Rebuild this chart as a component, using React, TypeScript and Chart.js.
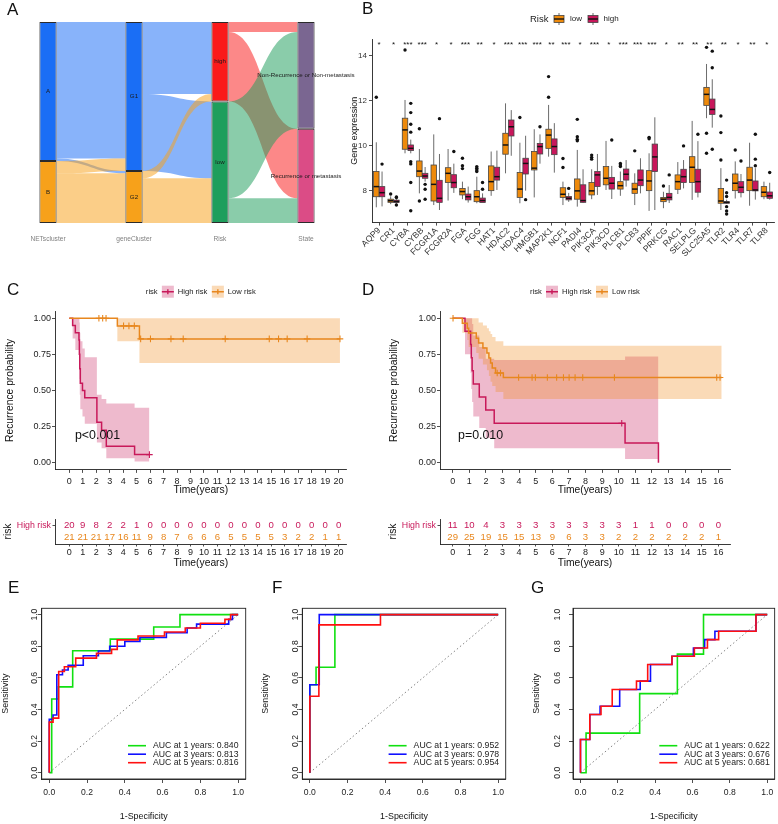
import React, { useEffect, useRef } from 'react';
import { Chart, registerables } from 'chart.js';

Chart.register(...registerables);
const FONT = "'Liberation Sans', Arial, Helvetica, sans-serif";
Chart.defaults.font.family = FONT;
Chart.defaults.color = '#222';

// ================= Panel A : Sankey =================
const sankeyAxes = ['NETscluster', 'geneCluster', 'Risk', 'State'];
const netClusters = ['A', 'B'];
const geneClusters = ['G1', 'G2'];
const riskGroups = ['high', 'low'];
const stateGroups = ['Non-Recurrence or Non-metastasis', 'Recurrence or metastasis'];
const flowNetToGene = [[55, 1], [5, 20]];
const flowGeneToRisk = [[29, 31], [3, 18]];
const flowRiskToState = [[4, 28], [39, 10]];
const netColors = ['#1A6EF5', '#F7A11A'];
const geneColors = ['#1A6EF5', '#F7A11A'];
const riskColors = ['#FA1A1A', '#1E9E5C'];
const stateColors = ['#7A6691', '#DB4C86'];

// ================= Panel B : boxplots =================
const genes = ['AQP9','CR1','CYBA','CYBB','FCGR1A','FCGR2A','FGA','FGG','HAT1','HDAC2','HDAC4','HMGB1','MAP2K1','NCF1','PADI4','PIK3CA','PIK3CD','PLCB1','PLCB3','PPIF','PRKCG','RAC1','SELPLG','SLC25A5','TLR2','TLR4','TLR7','TLR8'];
const signif = ['*','*','***','***','*','*','***','**','*','***','***','***','**','***','*','***','*','***','***','***','*','**','**','**','**','*','**','*'];
const lowMin = [7.26,7.40,9.66,7.88,7.36,7.56,7.62,7.44,7.77,8.77,7.44,7.70,9.51,7.36,7.29,7.62,8.03,7.77,7.36,7.10,7.22,7.85,7.59,11.22,7.14,7.65,7.33,7.62];
const lowQ1 = [7.73,7.48,9.84,8.62,7.54,8.36,7.81,7.51,8.00,9.62,7.70,8.92,9.88,7.70,7.62,7.81,8.26,8.07,7.88,8.00,7.51,8.06,8.36,11.79,7.44,8.00,8.00,7.73];
const lowMed = [8.18,7.55,10.70,8.87,8.28,8.77,7.96,7.73,8.40,10.03,8.07,9.00,10.47,7.84,7.99,7.99,8.55,8.22,8.07,8.43,7.62,8.40,9.04,12.28,7.54,8.33,8.47,7.93];
const lowQ3 = [8.85,7.62,11.22,9.32,9.14,9.02,8.10,8.00,9.10,10.55,8.81,9.74,10.73,8.13,8.52,8.36,9.07,8.40,8.33,8.89,7.70,8.70,9.51,12.59,8.10,8.74,9.04,8.18];
const lowMax = [10.15,7.75,12.03,9.85,10.50,9.85,8.40,8.62,9.74,11.88,10.13,10.73,11.81,8.40,9.81,8.95,10.21,8.85,8.77,9.66,7.95,9.27,11.10,13.63,9.00,9.30,10.13,8.40];
const lowOut = [[12.15],[7.85],[14.25],[10.75,7.54],[],[],[9.44,9.11,8.98],[9.07,9.0,8.92,8.85],[],[],[11.25],[],[13.07,12.15],[9.43,9.03],[11.17,10.4,10.28,10.22],[9.58,9.48,9.4],[],[9.21,9.14,9.07],[9.77],[10.37,10.31],[8.21],[],[],[14.37,10.55,9.66],[11.32,10.58,9.36],[9.81],[],[]];
const highMin = [7.30,7.42,9.66,8.40,7.14,7.90,7.47,7.47,8.03,9.55,8.00,9.20,8.80,7.50,7.45,7.81,7.63,8.18,7.88,7.14,7.45,8.10,7.70,10.80,7.42,7.70,7.60,7.60];
const highQ1 = [7.73,7.47,9.78,8.55,7.48,8.13,7.59,7.47,8.47,10.43,8.74,9.63,9.60,7.59,7.48,8.18,8.07,8.47,8.22,8.85,7.59,8.36,7.93,11.39,7.44,7.91,7.99,7.66];
const highMed = [7.91,7.52,9.88,8.65,7.66,8.36,7.73,7.56,8.62,10.84,9.21,9.96,9.96,7.66,7.56,8.70,8.33,8.73,8.47,9.50,7.70,8.62,8.40,11.61,7.48,8.15,8.03,7.77];
const highQ3 = [8.18,7.58,10.03,8.77,8.46,8.71,7.85,7.67,9.04,11.14,9.44,10.10,10.30,7.74,8.26,8.85,8.59,8.96,8.92,10.07,7.88,8.95,8.95,12.07,7.51,8.40,8.43,7.94];
const highMax = [8.85,7.64,10.27,9.05,9.63,9.20,8.18,7.88,9.78,11.58,10.44,10.50,11.00,7.90,8.95,9.63,9.10,9.36,9.44,11.26,8.25,9.36,10.20,12.95,7.60,8.74,9.00,8.35];
const highOut = [[9.18],[7.36,7.70,7.72],[11.88,11.47,10.95,10.60,9.29,9.19,8.36,7.11],[8.28,8.06,7.62],[11.2],[9.74],[],[8.36,8.06],[],[],[7.6],[10.84],[],[8.1],[],[],[10.25],[],[],[],[8.7],[9.99],[10.51],[14.2,13.46,9.84],[8.47,7.91,7.74,7.29,7.1,6.96],[9.32],[10.51,9.4,9.11],[8.81]];
const boxYTicks = [8, 10, 12, 14];

// ================= Panels C, D : Kaplan-Meier =================
const cHighTime = [0, 0.25, 0.45, 0.72, 0.75, 0.78, 0.82, 0.98, 1.15, 2.05, 2.4, 2.75, 4.85];
const cHighSurv = [1, 0.95, 0.9, 0.85, 0.75, 0.65, 0.55, 0.5, 0.45, 0.28, 0.225, 0.113, 0.056];
const cHighLower = [1, 0.86, 0.78, 0.71, 0.58, 0.47, 0.37, 0.32, 0.27, 0.14, 0.1, 0.03, 0.008];
const cHighUpper = [1, 1, 1, 1, 0.97, 0.9, 0.84, 0.79, 0.73, 0.47, 0.44, 0.41, 0.38];
const cHighEnd = 5.95;
const cHighCensor = [5.95];
const cLowTime = [0, 3.57, 5.21];
const cLowSurv = [1, 0.947, 0.857];
const cLowLower = [1, 0.84, 0.69];
const cLowUpper = [1, 1, 1];
const cLowEnd = 20.1;
const cLowCensor = [2.2, 2.48, 2.73, 4.03, 4.43, 4.83, 5.3, 6.03, 7.55, 8.46, 11.58, 14.85, 15.54, 16.18, 17.66, 20.1];
const cTicks = [0,1,2,3,4,5,6,7,8,9,10,11,12,13,14,15,16,17,18,19,20];
const cRiskHigh = [20,9,8,2,2,1,0,0,0,0,0,0,0,0,0,0,0,0,0,0,0];
const cRiskLow = [21,21,21,17,16,11,9,8,7,6,6,6,5,5,5,5,3,2,2,1,1];

const dHighTime = [0, 0.74, 1.08, 1.12, 1.17, 1.24, 1.6, 1.99, 2.5, 10.38, 12.39];
const dHighSurv = [1, 0.909, 0.818, 0.727, 0.636, 0.545, 0.455, 0.364, 0.273, 0.136, 0];
const dHighLower = [1, 0.75, 0.62, 0.51, 0.42, 0.32, 0.24, 0.17, 0.1, 0.025, 0.025];
const dHighUpper = [1, 1, 1, 1, 0.96, 0.88, 0.8, 0.72, 0.71, 0.735, 0.735];
const dHighEnd = 12.39;
const dHighCensor = [10.18];
const dLowTime = [0, 0.58, 0.88, 0.96, 1.42, 1.56, 1.82, 2.06, 2.18, 2.28, 2.38, 2.58, 3.05];
const dLowSurv = [1, 0.966, 0.931, 0.897, 0.862, 0.828, 0.793, 0.759, 0.724, 0.69, 0.655, 0.621, 0.59];
const dLowLower = [1, 0.9, 0.85, 0.8, 0.76, 0.72, 0.68, 0.64, 0.6, 0.56, 0.53, 0.49, 0.44];
const dLowUpper = [1, 1, 1, 1, 1, 0.97, 0.95, 0.93, 0.91, 0.89, 0.87, 0.84, 0.81];
const dLowEnd = 16.2;
const dLowCensor = [0.02, 2.68, 2.88, 3.97, 4.78, 4.98, 5.7, 6.26, 6.67, 7.01, 7.37, 7.83, 9.74, 15.9, 16.1];
const dTicks = [0,1,2,3,4,5,6,7,8,9,10,11,12,13,14,15,16];
const dRiskHigh = [11,10,4,3,3,3,3,3,3,3,3,1,1,0,0,0,0];
const dRiskLow = [29,25,19,15,15,13,9,6,3,3,2,2,2,2,2,2,1];
const kmYTicks = [0, 0.25, 0.5, 0.75, 1];
const riskRows = ['High risk', 'Low risk'];

// ================= Panels E, F, G : ROC =================
const rocE1 = [[0,0],[0.013,0],[0.013,0.466],[0.048,0.466],[0.048,0.543],[0.124,0.543],[0.124,0.771],[0.323,0.771],[0.323,0.845],[0.553,0.845],[0.553,0.922],[0.692,0.922],[0.692,1],[1,1]];
const rocE3 = [[0,0],[0,0.337],[0.02,0.337],[0.02,0.365],[0.04,0.365],[0.04,0.62],[0.07,0.62],[0.07,0.65],[0.1,0.65],[0.1,0.68],[0.18,0.68],[0.18,0.74],[0.26,0.74],[0.26,0.77],[0.32,0.77],[0.32,0.8],[0.4,0.8],[0.4,0.83],[0.48,0.83],[0.48,0.855],[0.62,0.855],[0.62,0.885],[0.73,0.885],[0.73,0.915],[0.78,0.915],[0.78,0.94],[0.95,0.94],[0.95,0.97],[0.97,0.97],[0.97,1],[1,1]];
const rocE5 = [[0,0],[0,0.32],[0.02,0.32],[0.02,0.345],[0.05,0.345],[0.05,0.64],[0.08,0.64],[0.08,0.67],[0.14,0.67],[0.14,0.725],[0.25,0.725],[0.25,0.755],[0.33,0.755],[0.33,0.78],[0.36,0.78],[0.36,0.84],[0.47,0.84],[0.47,0.865],[0.61,0.865],[0.61,0.89],[0.72,0.89],[0.72,0.915],[0.8,0.915],[0.8,0.945],[0.93,0.945],[0.93,0.97],[0.96,0.97],[0.96,1],[1,1]];
const rocF1 = [[0,0],[0,0.556],[0.033,0.556],[0.033,0.667],[0.133,0.667],[0.133,1],[1,1]];
const rocF3 = [[0,0],[0,0.556],[0.05,0.556],[0.05,1],[1,1]];
const rocF5 = [[0,0],[0,0.484],[0.048,0.484],[0.048,0.935],[0.375,0.935],[0.375,1],[1,1]];
const rocG1 = [[0,0],[0.03,0],[0.03,0.25],[0.317,0.25],[0.317,0.5],[0.519,0.5],[0.519,0.75],[0.659,0.75],[0.659,1],[1,1]];
const rocG3 = [[0,0],[0,0.21],[0.05,0.21],[0.05,0.368],[0.105,0.368],[0.105,0.42],[0.21,0.42],[0.21,0.526],[0.32,0.526],[0.32,0.579],[0.375,0.579],[0.375,0.684],[0.49,0.684],[0.49,0.737],[0.605,0.737],[0.605,0.789],[0.665,0.789],[0.665,0.842],[0.72,0.842],[0.72,0.895],[0.94,0.895],[0.94,1],[1,1]];
const rocG5 = [[0,0],[0,0.21],[0.05,0.21],[0.05,0.368],[0.11,0.368],[0.11,0.42],[0.17,0.42],[0.17,0.526],[0.3,0.526],[0.3,0.579],[0.36,0.579],[0.36,0.684],[0.49,0.684],[0.49,0.737],[0.61,0.737],[0.61,0.789],[0.68,0.789],[0.68,0.842],[0.74,0.842],[0.74,0.895],[0.94,0.895],[0.94,1],[1,1]];
const aucE = ['0.840', '0.813', '0.816'];
const aucF = ['0.952', '0.978', '0.954'];
const aucG = ['0.622', '0.676', '0.681'];
const aucYears = [1, 3, 5];
const rocTicks = [0, 0.2, 0.4, 0.6, 0.8, 1];

// ================= helpers =================
const HIGH = '#C8195A';
const LOW = '#E8871E';
const HIGH_BAND = 'rgba(200,25,90,0.3)';
const LOW_BAND = 'rgba(240,140,30,0.32)';
const BOX_LOW = '#EE8A0B';
const BOX_HIGH = '#C8175B';
const ROC_COLORS = ['#10E010', '#1010FF', '#FF1010'];

const sum = (a: number[]) => a.reduce((s, v) => s + v, 0);
const colSums = (m: number[][]) => m[0].map((_, j) => sum(m.map(r => r[j])));
const hexA = (hex: string, a: number) => {
  const n = parseInt(hex.slice(1), 16);
  return `rgba(${(n >> 16) & 255},${(n >> 8) & 255},${n & 255},${a})`;
};
const setTicks = (vals: number[]) => (s: any) => { s.ticks = vals.map(v => ({ value: v })); };
const fixW = (w: number) => (s: any) => { s.width = w; };
const fixH = (h: number) => (s: any) => { s.height = h; };
const baseOpts = (padding: any) => ({
  animation: false,
  responsive: false,
  devicePixelRatio: 1,
  events: [],
  layout: { padding },
  plugins: { legend: { display: false }, tooltip: { enabled: false } },
});
const axisGrid = (len: number) => ({ display: true, drawOnChartArea: false, drawTicks: true, tickLength: len, color: '#222', lineWidth: 0.8 });
const axisBorder = { display: true, color: '#222', width: 0.9 };

// ================= A : Sankey config =================
function sankeyConfig() {
  const colSizes = [flowNetToGene.map(sum), colSums(flowNetToGene), colSums(flowGeneToRisk), colSums(flowRiskToState)];
  const total = sum(colSizes[0]);
  const colColors = [netColors, geneColors, riskColors, stateColors];
  const colNames = [netClusters, geneClusters, riskGroups, stateGroups];
  const datasets = [0, 1].map(k => ({
    data: colSizes.map(s => (k === 0 ? [0, s[0]] : [s[0], total])),
    backgroundColor: colColors.map(c => c[k]),
    borderColor: '#2b2b2b', borderWidth: 1, borderSkipped: false, grouped: false,
    barPercentage: 0.2, categoryPercentage: 1,
  }));
  const plugin = {
    id: 'sankey',
    beforeDatasetsDraw(chart: any) {
      const { ctx, scales: { x, y } } = chart;
      const half = chart.getDatasetMeta(0).data[0].width / 2;
      const flowSets = [flowNetToGene, flowGeneToRisk, flowRiskToState];
      const srcColors = [netColors, geneColors, riskColors];
      ctx.save();
      flowSets.forEach((m, c) => {
        const srcSize = m.map(sum);
        const tgtSize = colSums(m);
        const srcOff = srcSize.map((_, i) => sum(srcSize.slice(0, i)));
        const tgtOff = tgtSize.map((_, i) => sum(tgtSize.slice(0, i)));
        const x0 = x.getPixelForValue(c) + half;
        const x1 = x.getPixelForValue(c + 1) - half;
        const xm = (x0 + x1) / 2;
        m.forEach((row, i) => row.forEach((v, j) => {
          if (!v) return;
          const a0 = y.getPixelForValue(srcOff[i]), a1 = y.getPixelForValue(srcOff[i] + v);
          const b0 = y.getPixelForValue(tgtOff[j]), b1 = y.getPixelForValue(tgtOff[j] + v);
          srcOff[i] += v; tgtOff[j] += v;
          ctx.beginPath();
          ctx.moveTo(x0, a0);
          ctx.bezierCurveTo(xm, a0, xm, b0, x1, b0);
          ctx.lineTo(x1, b1);
          ctx.bezierCurveTo(xm, b1, xm, a1, x0, a1);
          ctx.closePath();
          ctx.fillStyle = hexA(srcColors[c][i], 0.52);
          ctx.fill();
        }));
      });
      ctx.restore();
    },
    afterDatasetsDraw(chart: any) {
      const { ctx, chartArea, scales: { x, y } } = chart;
      ctx.save();
      ctx.textAlign = 'center';
      ctx.textBaseline = 'middle';
      ctx.font = `6.2px ${FONT}`;
      ctx.fillStyle = '#1a1a1a';
      colSizes.forEach((s, c) => {
        let off = 0;
        s.forEach((v, k) => {
          ctx.fillText(colNames[c][k], x.getPixelForValue(c), y.getPixelForValue(off + v / 2));
          off += v;
        });
      });
      ctx.font = `6.6px ${FONT}`;
      ctx.fillStyle = '#808080';
      sankeyAxes.forEach((t, c) => ctx.fillText(t, x.getPixelForValue(c), chartArea.bottom + 16));
      ctx.restore();
    },
  };
  return {
    type: 'bar',
    data: { labels: sankeyAxes, datasets },
    options: {
      ...baseOpts({ left: 5, right: 41, top: 22, bottom: 27 }),
      scales: { x: { display: false }, y: { display: false, reverse: true, min: 0, max: total } },
    },
    plugins: [plugin],
  };
}

// ================= B : boxplot config =================
function boxConfig() {
  const groups = [
    { off: -0.2, lo: lowMin, q1: lowQ1, med: lowMed, q3: lowQ3, hi: lowMax, color: BOX_LOW },
    { off: 0.2, lo: highMin, q1: highQ1, med: highMed, q3: highQ3, hi: highMax, color: BOX_HIGH },
  ];
  const outPts = (outs: number[][], off: number) => outs.flatMap((arr, i) => arr.map(v => ({ x: i + off, y: v })));
  const drawKey = (ctx: any, x: number, yc: number, color: string) => {
    ctx.strokeStyle = '#444'; ctx.lineWidth = 0.8;
    ctx.beginPath(); ctx.moveTo(x + 5, yc - 6); ctx.lineTo(x + 5, yc + 6); ctx.stroke();
    ctx.fillStyle = color; ctx.fillRect(x, yc - 3.5, 10, 7); ctx.strokeRect(x, yc - 3.5, 10, 7);
    ctx.strokeStyle = '#111'; ctx.lineWidth = 1.4;
    ctx.beginPath(); ctx.moveTo(x, yc); ctx.lineTo(x + 10, yc); ctx.stroke();
  };
  const plugin = {
    id: 'boxes',
    beforeDatasetsDraw(chart: any) {
      const { ctx, scales: { x, y } } = chart;
      ctx.save();
      genes.forEach((_, i) => groups.forEach(g => {
        const cx = x.getPixelForValue(i + g.off);
        const l = x.getPixelForValue(i + g.off - 0.19);
        const r = x.getPixelForValue(i + g.off + 0.19);
        const yq1 = y.getPixelForValue(g.q1[i]), yq3 = y.getPixelForValue(g.q3[i]);
        ctx.strokeStyle = '#454545'; ctx.lineWidth = 0.8;
        ctx.beginPath();
        ctx.moveTo(cx, y.getPixelForValue(g.lo[i])); ctx.lineTo(cx, yq1);
        ctx.moveTo(cx, yq3); ctx.lineTo(cx, y.getPixelForValue(g.hi[i]));
        ctx.stroke();
        ctx.fillStyle = g.color;
        ctx.fillRect(l, yq3, r - l, yq1 - yq3);
        ctx.strokeRect(l, yq3, r - l, yq1 - yq3);
        ctx.strokeStyle = '#111'; ctx.lineWidth = 1.5;
        const ym = y.getPixelForValue(g.med[i]);
        ctx.beginPath(); ctx.moveTo(l, ym); ctx.lineTo(r, ym); ctx.stroke();
      }));
      ctx.restore();
    },
    afterDraw(chart: any) {
      const { ctx, chartArea, scales: { x } } = chart;
      ctx.save();
      ctx.fillStyle = '#111';
      ctx.font = `8px ${FONT}`;
      ctx.textAlign = 'center';
      ctx.textBaseline = 'alphabetic';
      signif.forEach((s, i) => ctx.fillText(s, x.getPixelForValue(i), chartArea.top + 8.2));
      ctx.textAlign = 'left';
      ctx.textBaseline = 'middle';
      ctx.font = `9.5px ${FONT}`;
      ctx.fillStyle = '#222';
      ctx.fillText('Risk', 200, 19);
      drawKey(ctx, 224, 19, BOX_LOW);
      drawKey(ctx, 258, 19, BOX_HIGH);
      ctx.fillStyle = '#222';
      ctx.font = `8px ${FONT}`;
      ctx.fillText('low', 240, 19);
      ctx.fillText('high', 273.5, 19);
      ctx.restore();
    },
  };
  return {
    type: 'scatter',
    data: {
      datasets: [
        { data: outPts(lowOut, -0.2), pointRadius: 1.7, backgroundColor: '#111', borderWidth: 0 },
        { data: outPts(highOut, 0.2), pointRadius: 1.7, backgroundColor: '#111', borderWidth: 0 },
      ],
    },
    options: {
      ...baseOpts({ left: 19.6, right: 3, top: 39, bottom: 0 }),
      scales: {
        x: {
          type: 'linear', min: -0.5, max: genes.length - 0.5,
          afterBuildTicks: setTicks(genes.map((_, i) => i)),
          afterFit: fixH(77.4),
          grid: axisGrid(3), border: axisBorder,
          ticks: { autoSkip: false, minRotation: 45, maxRotation: 45, padding: 0, font: { size: 8.6 }, color: '#333', callback: (v: number) => genes[v] },
        },
        y: {
          min: 6.58, max: 14.74,
          afterBuildTicks: setTicks(boxYTicks),
          afterFit: fixW(22.4),
          grid: axisGrid(3), border: axisBorder,
          ticks: { padding: 2, font: { size: 8 }, color: '#333' },
          title: { display: true, text: 'Gene expression', font: { size: 9 }, color: '#111', padding: 0 },
        },
      },
    },
    plugins: [plugin],
  };
}

// ================= C, D : KM config =================
type Curve = { t: number[]; s: number[]; lo: number[]; hi: number[]; end: number; censor: number[] };
function kmConfig(p: { high: Curve; low: Curve; xMin: number; xMax: number; ticks: number[]; pText: string; pX: number; pad: any; yW: number }) {
  const pts = (t: number[], v: number[], end: number) => {
    const a = t.map((ti, i) => ({ x: ti, y: v[i] }));
    if (end > t[t.length - 1]) a.push({ x: end, y: v[v.length - 1] });
    return a;
  };
  const sAt = (c: Curve, time: number) => {
    let k = 0;
    c.t.forEach((ti, i) => { if (ti <= time) k = i; });
    return c.s[k];
  };
  const band = (c: Curve, vals: number[], color: string, fill: any, order: number) => ({
    data: pts(c.t, vals, c.end), stepped: true, borderWidth: 0, pointRadius: 0, fill, backgroundColor: color, order,
  });
  const line = (c: Curve, color: string, order: number) => ({
    data: pts(c.t, c.s, c.end), stepped: true, borderWidth: 1.5, borderColor: color, pointRadius: 0, fill: false, order,
  });
  const cens = (c: Curve, color: string) => ({
    data: c.censor.map(t => ({ x: t, y: sAt(c, t) })), showLine: false, pointStyle: 'cross', pointRadius: 3.3,
    borderColor: color, backgroundColor: color, borderWidth: 1.1, order: 0,
  });
  const legendKey = (ctx: any, x: number, yc: number, band: string, col: string) => {
    ctx.fillStyle = band; ctx.fillRect(x, yc - 6, 12, 12);
    ctx.strokeStyle = col; ctx.lineWidth = 1.4;
    ctx.beginPath(); ctx.moveTo(x, yc); ctx.lineTo(x + 12, yc); ctx.moveTo(x + 6, yc - 2.5); ctx.lineTo(x + 6, yc + 2.5); ctx.stroke();
  };
  const plugin = {
    id: 'kmDecor',
    afterDraw(chart: any) {
      const { ctx, chartArea, scales: { x, y } } = chart;
      ctx.save();
      ctx.font = `12.4px ${FONT}`;
      ctx.fillStyle = '#111';
      ctx.textAlign = 'left';
      ctx.textBaseline = 'middle';
      ctx.fillText(p.pText, x.getPixelForValue(p.pX), y.getPixelForValue(0.19));
      const start = (chartArea.left + chartArea.right) / 2 - 55;
      const ly = 11.7;
      ctx.font = `7.6px ${FONT}`;
      ctx.fillStyle = '#222';
      ctx.fillText('risk', start, ly);
      legendKey(ctx, start + 16, ly, HIGH_BAND, HIGH);
      ctx.fillStyle = '#222';
      ctx.fillText('High risk', start + 32, ly);
      legendKey(ctx, start + 66, ly, LOW_BAND, LOW);
      ctx.fillStyle = '#222';
      ctx.fillText('Low risk', start + 82, ly);
      ctx.restore();
    },
  };
  return {
    type: 'line',
    data: {
      datasets: [
        band(p.high, p.high.hi, HIGH_BAND, '+1', 5),
        band(p.high, p.high.lo, HIGH_BAND, false, 5),
        band(p.low, p.low.hi, LOW_BAND, '+1', 4),
        band(p.low, p.low.lo, LOW_BAND, false, 4),
        line(p.high, HIGH, 2),
        line(p.low, LOW, 1),
        cens(p.high, HIGH),
        cens(p.low, LOW),
      ],
    },
    options: {
      ...baseOpts(p.pad),
      scales: {
        x: {
          type: 'linear', min: p.xMin, max: p.xMax,
          afterBuildTicks: setTicks(p.ticks), afterFit: fixH(26),
          grid: axisGrid(3), border: axisBorder,
          ticks: { autoSkip: false, maxRotation: 0, padding: 3.2, font: { size: 9 }, color: '#222' },
          title: { display: true, text: 'Time(years)', font: { size: 10.3 }, color: '#111', padding: 0 },
        },
        y: {
          type: 'linear', min: -0.05, max: 1.05,
          afterBuildTicks: setTicks(kmYTicks), afterFit: fixW(p.yW),
          grid: axisGrid(3), border: axisBorder,
          ticks: { padding: 1, font: { size: 9 }, color: '#222', callback: (v: number) => v.toFixed(2) },
          title: { display: true, text: 'Recurrence probability', font: { size: 10.3 }, color: '#111', padding: 0 },
        },
      },
    },
    plugins: [plugin],
  };
}

function riskTableConfig(p: { xMin: number; xMax: number; ticks: number[]; high: number[]; low: number[]; pad: any; yW: number }) {
  const plugin = {
    id: 'riskTable',
    afterDatasetsDraw(chart: any) {
      const { ctx, scales: { x, y } } = chart;
      ctx.save();
      ctx.font = `9.6px ${FONT}`;
      ctx.textAlign = 'center';
      ctx.textBaseline = 'middle';
      p.ticks.forEach((t, i) => {
        ctx.fillStyle = HIGH;
        ctx.fillText(String(p.high[i]), x.getPixelForValue(t), y.getPixelForValue(0));
        ctx.fillStyle = LOW;
        ctx.fillText(String(p.low[i]), x.getPixelForValue(t), y.getPixelForValue(1));
      });
      ctx.restore();
    },
  };
  return {
    type: 'scatter',
    data: { datasets: [{ data: [] }] },
    options: {
      ...baseOpts(p.pad),
      scales: {
        x: {
          type: 'linear', min: p.xMin, max: p.xMax,
          afterBuildTicks: setTicks(p.ticks), afterFit: fixH(24.9),
          grid: axisGrid(2.5), border: axisBorder,
          ticks: { autoSkip: false, maxRotation: 0, padding: 0.8, font: { size: 9 }, color: '#222' },
          title: { display: true, text: 'Time(years)', font: { size: 10.3 }, color: '#111', padding: 0 },
        },
        y: {
          type: 'category', labels: riskRows, offset: true,
          afterFit: fixW(p.yW),
          grid: axisGrid(2.5), border: axisBorder,
          ticks: { padding: 1.5, font: { size: 8.8 }, color: (c: any) => (c.index === 0 ? HIGH : LOW) },
          title: { display: true, text: 'risk', font: { size: 10.3 }, color: '#111', padding: 0 },
        },
      },
    },
    plugins: [plugin],
  };
}

// ================= E, F, G : ROC config =================
function rocConfig(curves: number[][][], aucs: string[], padLeft: number, yW: number, padRight: number, labelGap: number) {
  const toPts = (c: number[][]) => c.map(([fx, ty]) => ({ x: fx, y: ty }));
  const plugin = {
    id: 'rocDecor',
    afterDraw(chart: any) {
      const { ctx, chartArea: a, scales: { y } } = chart;
      ctx.save();
      ctx.strokeStyle = '#222';
      ctx.lineWidth = 0.9;
      ctx.strokeRect(a.left, a.top, a.right - a.left, a.bottom - a.top);
      ctx.font = `8.6px ${FONT}`;
      ctx.fillStyle = '#222';
      ctx.textAlign = 'center';
      ctx.textBaseline = 'middle';
      rocTicks.forEach(v => {
        ctx.save();
        ctx.translate(a.left - labelGap, y.getPixelForValue(v));
        ctx.rotate(-Math.PI / 2);
        ctx.fillText(v.toFixed(1), 0, 0);
        ctx.restore();
      });
      ctx.textAlign = 'left';
      ctx.font = `8.7px ${FONT}`;
      aucs.forEach((t, i) => {
        const ly = a.top + 137.4 + i * 8.5;
        ctx.strokeStyle = ROC_COLORS[i];
        ctx.lineWidth = 1.6;
        ctx.beginPath(); ctx.moveTo(a.left + 86.3, ly); ctx.lineTo(a.left + 104.3, ly); ctx.stroke();
        ctx.fillStyle = '#222';
        ctx.fillText(`AUC at ${aucYears[i]} years: ${t}`, a.left + 111.3, ly);
      });
      ctx.restore();
    },
  };
  return {
    type: 'line',
    data: {
      datasets: [
        { data: [{ x: 0, y: 0 }, { x: 1, y: 1 }], borderColor: '#666', borderWidth: 0.8, borderDash: [1.5, 2.5], pointRadius: 0, order: 3 },
        ...curves.map((c, i) => ({ data: toPts(c), borderColor: ROC_COLORS[i], borderWidth: 1.6, pointRadius: 0, tension: 0, order: 2 - i })),
      ],
    },
    options: {
      ...baseOpts({ left: padLeft, right: padRight, top: 28.3, bottom: 1.7 }),
      scales: {
        x: {
          type: 'linear', min: -0.04, max: 1.04,
          afterBuildTicks: setTicks(rocTicks), afterFit: fixH(43.3),
          grid: axisGrid(4), border: axisBorder,
          ticks: { padding: 4.8, maxRotation: 0, font: { size: 8.6 }, color: '#222', callback: (v: number) => v.toFixed(1) },
          title: { display: true, text: '1-Specificity', font: { size: 8.9 }, color: '#111', padding: 0 },
        },
        y: {
          type: 'linear', min: -0.04, max: 1.04,
          afterBuildTicks: setTicks(rocTicks), afterFit: fixW(yW),
          grid: axisGrid(4), border: axisBorder,
          ticks: { display: false },
          title: { display: true, text: 'Sensitivity', font: { size: 8.9 }, color: '#111', padding: 0 },
        },
      },
    },
    plugins: [plugin],
  };
}

// ================= components =================
function ChartCanvas({ x, y, w, h, make }: { x: number; y: number; w: number; h: number; make: () => any }) {
  const ref = useRef<HTMLCanvasElement>(null);
  useEffect(() => {
    const chart = new Chart(ref.current as HTMLCanvasElement, make());
    return () => chart.destroy();
  }, []);
  return <canvas ref={ref} width={w} height={h} style={{ position: 'absolute', left: x, top: y, width: w, height: h }} />;
}

const cHigh: Curve = { t: cHighTime, s: cHighSurv, lo: cHighLower, hi: cHighUpper, end: cHighEnd, censor: cHighCensor };
const cLow: Curve = { t: cLowTime, s: cLowSurv, lo: cLowLower, hi: cLowUpper, end: cLowEnd, censor: cLowCensor };
const dHigh: Curve = { t: dHighTime, s: dHighSurv, lo: dHighLower, hi: dHighUpper, end: dHighEnd, censor: dHighCensor };
const dLow: Curve = { t: dLowTime, s: dLowSurv, lo: dLowLower, hi: dLowUpper, end: dLowEnd, censor: dLowCensor };

function Letter({ t, x, y }: { t: string; x: number; y: number }) {
  return <div style={{ position: 'absolute', left: x, top: y, fontSize: 17, lineHeight: '17px', fontFamily: FONT, color: '#111' }}>{t}</div>;
}

export default function App() {
  useEffect(() => { document.body.style.margin = '0'; }, []);
  return (
    <div style={{ position: 'fixed', left: 0, top: 0, width: 778, height: 824, background: '#fff', overflow: 'hidden' }}>
      <ChartCanvas x={0} y={0} w={390} h={250} make={sankeyConfig} />
      <ChartCanvas x={330} y={0} w={448} h={300} make={boxConfig} />
      <ChartCanvas x={0} y={280} w={390} h={220} make={() => kmConfig({ high: cHigh, low: cLow, xMin: -1.06, xMax: 20.6, ticks: cTicks, pText: 'p<0.001', pX: 0.42, pad: { left: 3.7, right: 43.3, top: 31, bottom: 4.1 }, yW: 51.3 })} />
      <ChartCanvas x={380} y={280} w={398} h={220} make={() => kmConfig({ high: dHigh, low: dLow, xMin: -0.765, xMax: 16.7, ticks: dTicks, pText: 'p=0.010', pX: 0.32, pad: { left: 7.8, right: 48, top: 31, bottom: 4.1 }, yW: 52.2 })} />
      <ChartCanvas x={0} y={505} w={390} h={65} make={() => riskTableConfig({ xMin: -1.06, xMax: 20.6, ticks: cTicks, high: cRiskHigh, low: cRiskLow, pad: { left: 1.8, right: 43.3, top: 14, bottom: 1.1 }, yW: 53.2 })} />
      <ChartCanvas x={380} y={505} w={398} h={65} make={() => riskTableConfig({ xMin: -0.765, xMax: 16.7, ticks: dTicks, high: dRiskHigh, low: dRiskLow, pad: { left: 6.8, right: 48, top: 14, bottom: 1.1 }, yW: 53.2 })} />
      <ChartCanvas x={0} y={580} w={260} h={244} make={() => rocConfig([rocE1, rocE3, rocE5], aucE, 0, 41.7, 14.3, 7)} />
      <ChartCanvas x={260} y={580} w={260} h={244} make={() => rocConfig([rocF1, rocF3, rocF5], aucF, 0, 42.3, 14.3, 7)} />
      <ChartCanvas x={518} y={580} w={260} h={244} make={() => rocConfig([rocG1, rocG3, rocG5], aucG, 13, 42, 1, 15.7)} />
      <Letter t="A" x={7} y={1} />
      <Letter t="B" x={362} y={0} />
      <Letter t="C" x={7} y={281} />
      <Letter t="D" x={362} y={281} />
      <Letter t="E" x={8} y={579} />
      <Letter t="F" x={272} y={579} />
      <Letter t="G" x={531} y={579} />
    </div>
  );
}
